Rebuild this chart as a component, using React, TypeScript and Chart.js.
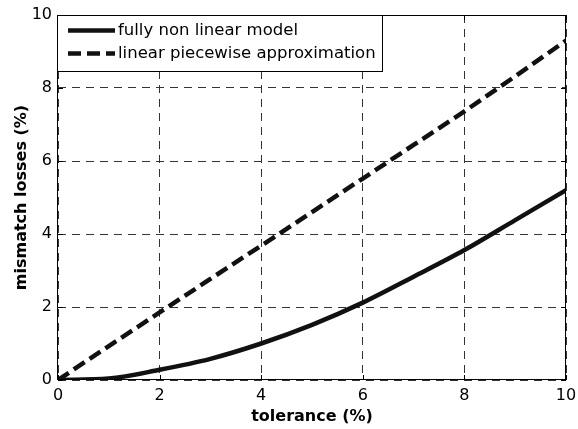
import React, { useEffect, useRef } from "react";
import { Chart, registerables } from "chart.js";

Chart.register(...registerables);

const tolerance = [0, 1, 2, 3, 4, 5, 6, 7, 8, 9, 10];
const nonLinearLosses = [0, 0.04, 0.28, 0.58, 1.0, 1.51, 2.12, 2.83, 3.56, 4.38, 5.2];
const piecewiseLosses = [0, 0.93, 1.85, 2.77, 3.68, 4.6, 5.52, 6.44, 7.36, 8.32, 9.3];
const seriesLabels = ["fully non linear model", "linear piecewise approximation"];
const xTickValues = [0, 2, 4, 6, 8, 10];
const yTickValues = [0, 2, 4, 6, 8, 10];
const xTitle = "tolerance (%)";
const yTitle = "mismatch losses (%)";

const FONT = "'DejaVu Sans', 'Liberation Sans', Arial, sans-serif";
const DATA_DASH = [13, 6];

const framePlugin = {
  id: "matlabFrame",
  afterDraw(chart: any) {
    const { ctx, chartArea: a, scales } = chart;
    ctx.save();
    ctx.setLineDash([]);
    ctx.strokeStyle = "#000";
    ctx.lineWidth = 1;
    const tl = 5;
    ctx.beginPath();
    for (const v of xTickValues) {
      const px = Math.round(scales.x.getPixelForValue(v)) + 0.5;
      ctx.moveTo(px, a.bottom);
      ctx.lineTo(px, a.bottom - tl);
      ctx.moveTo(px, a.top);
      ctx.lineTo(px, a.top + tl);
    }
    for (const v of yTickValues) {
      const py = Math.round(scales.y.getPixelForValue(v)) + 0.5;
      ctx.moveTo(a.left, py);
      ctx.lineTo(a.left + tl, py);
      ctx.moveTo(a.right, py);
      ctx.lineTo(a.right - tl, py);
    }
    ctx.stroke();
    ctx.strokeRect(Math.round(a.left) - 0.5, Math.round(a.top) + 0.5, Math.round(a.right - a.left), Math.round(a.bottom - a.top) - 1);

    // legend
    ctx.font = `16.5px ${FONT}`;
    const sampleX0 = a.left + 10;
    const sampleX1 = a.left + 57;
    const textX = a.left + 60;
    let maxW = 0;
    chart.data.datasets.forEach((d: any) => {
      maxW = Math.max(maxW, ctx.measureText(d.label).width);
    });
    const boxL = Math.round(a.left) - 0.5;
    const boxT = Math.round(a.top) + 0.5;
    const boxR = Math.round(textX + maxW + 6) + 0.5;
    const boxB = Math.round(a.top + 56) + 0.5;
    ctx.fillStyle = "#fff";
    ctx.fillRect(boxL, boxT, boxR - boxL, boxB - boxT);
    ctx.lineWidth = 1;
    ctx.strokeStyle = "#000";
    ctx.strokeRect(boxL, boxT, boxR - boxL, boxB - boxT);
    const rows = [a.top + 15.5, a.top + 38.5];
    chart.data.datasets.forEach((d: any, i: number) => {
      const y = rows[i];
      ctx.save();
      ctx.lineWidth = d.borderWidth;
      ctx.strokeStyle = d.borderColor;
      ctx.lineCap = "butt";
      ctx.setLineDash(d.borderDash || []);
      ctx.beginPath();
      ctx.moveTo(sampleX0, y);
      ctx.lineTo(sampleX1, y);
      ctx.stroke();
      ctx.restore();
      ctx.fillStyle = "#000";
      ctx.textAlign = "left";
      ctx.textBaseline = "middle";
      ctx.fillText(d.label, textX, y);
    });
    ctx.restore();
  },
};

export default function App() {
  const ref = useRef<HTMLCanvasElement>(null);

  useEffect(() => {
    const canvas = ref.current;
    if (!canvas) return;
    const chart = new Chart(canvas, {
      type: "line",
      data: {
        datasets: [
          {
            label: seriesLabels[0],
            data: tolerance.map((x, i) => ({ x, y: nonLinearLosses[i] })),
            borderColor: "#111",
            borderWidth: 4.5,
            borderDash: [],
            pointRadius: 0,
            cubicInterpolationMode: "monotone",
            borderJoinStyle: "round",
            fill: false,
          },
          {
            label: seriesLabels[1],
            data: tolerance.map((x, i) => ({ x, y: piecewiseLosses[i] })),
            borderColor: "#111",
            borderWidth: 4.5,
            borderDash: DATA_DASH,
            borderCapStyle: "butt",
            pointRadius: 0,
            tension: 0,
            fill: false,
          },
        ],
      },
      options: {
        responsive: false,
        animation: false,
        devicePixelRatio: 1,
        layout: { padding: { top: 15, right: 12, left: 0, bottom: 0 } },
        plugins: {
          legend: { display: false },
          tooltip: { enabled: false },
        },
        scales: {
          x: {
            type: "linear",
            min: 0,
            max: 10,
            afterBuildTicks: (s: any) => {
              s.ticks = xTickValues.map((v) => ({ value: v }));
            },
            afterFit: (s: any) => {
              s.height = 49;
              s.paddingLeft = 0;
              s.paddingRight = 0;
            },
            grid: { color: "#333", lineWidth: 1, drawTicks: false },
            border: { display: false, dash: [8, 6] },
            ticks: {
              padding: 6,
              color: "#000",
              maxRotation: 0,
              font: { family: FONT, size: 16 },
              callback: (v: any) => String(v),
            },
            title: {
              display: true,
              text: xTitle,
              color: "#000",
              font: { family: FONT, size: 16, weight: "bold" },
              padding: { top: 0, bottom: 3 },
            },
          },
          y: {
            type: "linear",
            min: 0,
            max: 10,
            afterBuildTicks: (s: any) => {
              s.ticks = yTickValues.map((v) => ({ value: v }));
            },
            afterFit: (s: any) => {
              s.width = 58;
              s.paddingTop = 0;
              s.paddingBottom = 0;
            },
            grid: { color: "#333", lineWidth: 1, drawTicks: false },
            border: { display: false, dash: [8, 6] },
            ticks: {
              padding: 6,
              color: "#000",
              font: { family: FONT, size: 16 },
              callback: (v: any) => String(v),
            },
            title: {
              display: true,
              text: yTitle,
              color: "#000",
              font: { family: FONT, size: 16, weight: "bold" },
              padding: { top: 12, bottom: 0 },
            },
          },
        },
      },
      plugins: [framePlugin],
    } as any);
    return () => chart.destroy();
  }, []);

  return (
    <div style={{ position: "fixed", left: 0, top: 0, width: 578, height: 429, background: "#fff" }}>
      <canvas ref={ref} width={578} height={429} style={{ display: "block", width: 578, height: 429 }} />
    </div>
  );
}
